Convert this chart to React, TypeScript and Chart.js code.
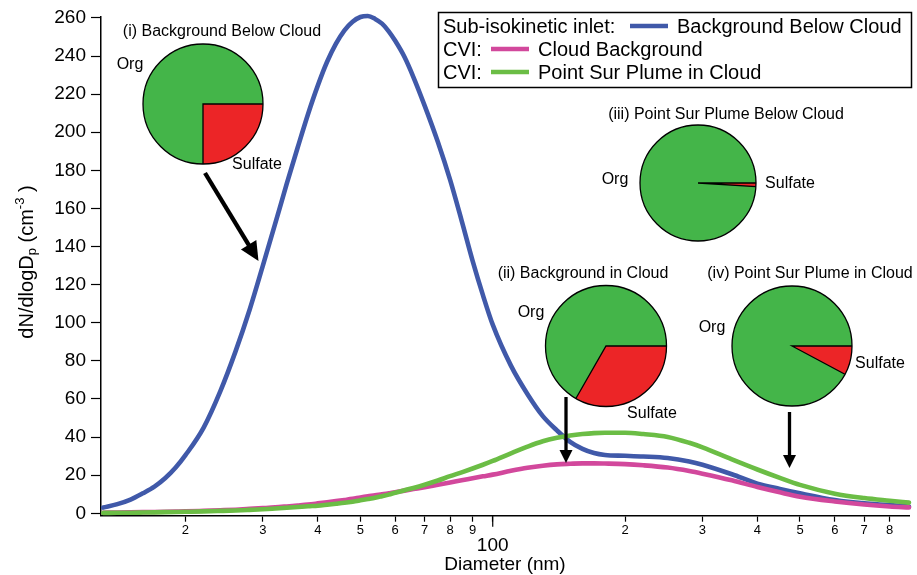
import React, { useEffect, useRef } from 'react';
import { Chart, registerables } from 'chart.js';

Chart.register(...registerables);

const FONT = "'Liberation Sans', Arial, Helvetica, sans-serif";

// ---- data ----
const diameters = [13, 14, 15, 16, 17, 18, 19, 20, 22, 24, 26, 28, 30, 32, 34, 36, 38, 40, 42, 44, 46, 48, 50, 52, 54, 56, 58, 60, 63, 66, 70, 75, 80, 85, 90, 95, 100, 110, 120, 130, 140, 150, 160, 170, 180, 200, 220, 250, 280, 300, 350, 400, 450, 500, 600, 700, 800, 885];

const backgroundBelowCloud = [3.0, 4.8, 7.2, 10.5, 14, 18.5, 24, 30.5, 45, 64, 85, 107, 130, 152, 173, 192, 209.5, 224.5, 237, 246.5, 253.5, 258, 260.5, 261, 259.5, 257, 253, 248, 239.5, 229, 214, 195, 175, 153.5, 132.5, 114.5, 99, 77.5, 62.5, 51, 43.5, 37.5, 33.8, 31.6, 30.6, 30.2, 29.8, 29, 27.2, 25.5, 20.5, 15.6, 12.8, 10.5, 7, 5.2, 4.3, 3.5];

const cloudBackground = [0.3, 0.4, 0.5, 0.6, 0.7, 0.8, 0.9, 1.0, 1.3, 1.6, 1.9, 2.3, 2.7, 3.1, 3.6, 4.1, 4.6, 5.2, 5.8, 6.4, 7.0, 7.6, 8.3, 8.9, 9.4, 10.0, 10.5, 11.0, 11.9, 12.7, 13.7, 15.0, 16.2, 17.3, 18.4, 19.4, 20.3, 22.3, 23.9, 25.0, 25.7, 26.0, 26.2, 26.2, 26.1, 25.8, 25.2, 24.0, 22.2, 20.8, 17.3, 13.8, 11.0, 8.7, 6.2, 4.6, 3.6, 3.1];

const plumeInCloud = [0.2, 0.25, 0.3, 0.4, 0.5, 0.6, 0.7, 0.8, 1.0, 1.25, 1.5, 1.8, 2.1, 2.5, 2.9, 3.3, 3.7, 4.0, 4.5, 5.0, 5.5, 6.1, 6.8, 7.5, 8.2, 9.0, 9.8, 10.8, 12.1, 13.3, 15.0, 17.2, 19.5, 21.5, 23.5, 25.5, 27.5, 31.5, 35, 37.8, 39.6, 40.8, 41.6, 42.1, 42.3, 42.3, 41.6, 40.1, 37, 34.6, 28.3, 23, 18.6, 14.9, 10.3, 8.0, 6.6, 5.6];

const xTickValues = [20, 30, 40, 50, 60, 70, 80, 90, 100, 200, 300, 400, 500, 600, 700, 800];
const xTickLabels = ['2', '3', '4', '5', '6', '7', '8', '9', '100', '2', '3', '4', '5', '6', '7', '8'];
const yTickValues = [0, 20, 40, 60, 80, 100, 120, 140, 160, 180, 200, 220, 240, 260];

const seriesNames = ['Background Below Cloud', 'Cloud Background', 'Point Sur Plume in Cloud'];
const legendPrefixes = ['Sub-isokinetic inlet:', 'CVI:', 'CVI:'];
const seriesColors = ['#4059a9', '#d2489c', '#6bbd45'];

const pieTitles = ['(i) Background Below Cloud', '(ii) Background in Cloud', '(iii) Point Sur Plume Below Cloud', '(iv) Point Sur Plume in Cloud'];
const sulfateFractions = [0.25, 0.333, 0.01, 0.078];
const pieLabels = ['Org', 'Sulfate'];
const pieColors = ['#44b549', '#ec2527'];

// ---- layout of inset annotations (pixels) ----
const pieLayout = [
  { cx: 203, cy: 104, r: 60, title: [222, 32], org: [130, 65], sulf: [257, 165] },
  { cx: 606, cy: 346, r: 60.5, title: [583, 274], org: [531, 313], sulf: [652, 414] },
  { cx: 698, cy: 183, r: 58, title: [726, 115], org: [615, 180], sulf: [790, 184] },
  { cx: 792, cy: 346, r: 60, title: [810, 274], org: [712, 328], sulf: [880, 364] },
];
const arrows = [
  { x1: 205, y1: 173, x2: 258.5, y2: 261, w: 4.3, head: 19, half: 9 },
  { x1: 566, y1: 397, x2: 566, y2: 463, w: 3.3, head: 13, half: 6.5 },
  { x1: 789.5, y1: 412, x2: 789.5, y2: 468, w: 3.3, head: 13, half: 6.5 },
];

function drawArrow(ctx: CanvasRenderingContext2D, a: any) {
  const dx = a.x2 - a.x1, dy = a.y2 - a.y1;
  const len = Math.hypot(dx, dy);
  const ux = dx / len, uy = dy / len;
  const bx = a.x2 - ux * a.head, by = a.y2 - uy * a.head;
  ctx.strokeStyle = '#000';
  ctx.fillStyle = '#000';
  ctx.lineWidth = a.w;
  ctx.lineCap = 'butt';
  ctx.beginPath();
  ctx.moveTo(a.x1, a.y1);
  ctx.lineTo(bx + ux * 1, by + uy * 1);
  ctx.stroke();
  ctx.beginPath();
  ctx.moveTo(a.x2, a.y2);
  ctx.lineTo(bx - uy * a.half, by + ux * a.half);
  ctx.lineTo(bx + uy * a.half, by - ux * a.half);
  ctx.closePath();
  ctx.fill();
}

const overlayPlugin = {
  id: 'overlay',
  afterDraw(chart: any) {
    const ctx: CanvasRenderingContext2D = chart.ctx;
    const xs = chart.scales.x;
    const area = chart.chartArea;
    ctx.save();

    // longer major tick at 100
    const p100 = xs.getPixelForValue(100);
    ctx.strokeStyle = '#000';
    ctx.lineWidth = 1.2;
    ctx.beginPath();
    ctx.moveTo(p100, area.bottom);
    ctx.lineTo(p100, area.bottom + 11);
    ctx.stroke();

    // y axis title with subscript / superscript
    ctx.save();
    ctx.translate(33, 262);
    ctx.rotate(-Math.PI / 2);
    const parts = [
      { t: 'dN/dlogD', s: 20, dy: 0 },
      { t: 'p', s: 13, dy: 3 },
      { t: ' (cm', s: 20, dy: 0 },
      { t: '-3', s: 13, dy: -9 },
      { t: ' )', s: 20, dy: 0 },
    ];
    let total = 0;
    for (const p of parts) {
      ctx.font = `${p.s}px ${FONT}`;
      total += ctx.measureText(p.t).width;
    }
    let cx = -total / 2;
    ctx.fillStyle = '#000';
    ctx.textBaseline = 'alphabetic';
    ctx.textAlign = 'left';
    for (const p of parts) {
      ctx.font = `${p.s}px ${FONT}`;
      ctx.fillText(p.t, cx, p.dy);
      cx += ctx.measureText(p.t).width;
    }
    ctx.restore();

    // legend
    ctx.strokeStyle = '#000';
    ctx.lineWidth = 1.5;
    ctx.strokeRect(438.5, 12.5, 473, 75);
    ctx.font = `20px ${FONT}`;
    ctx.textBaseline = 'middle';
    ctx.textAlign = 'left';
    const rowsY = [26, 49, 72];
    const lineStarts = [630, 491, 491];
    for (let i = 0; i < 3; i++) {
      ctx.fillStyle = '#000';
      ctx.fillText(legendPrefixes[i], 443, rowsY[i] + 1);
      ctx.strokeStyle = seriesColors[i];
      ctx.lineWidth = 4.5;
      ctx.beginPath();
      ctx.moveTo(lineStarts[i], rowsY[i]);
      ctx.lineTo(lineStarts[i] + 38, rowsY[i]);
      ctx.stroke();
      ctx.fillStyle = '#000';
      ctx.fillText(seriesNames[i], lineStarts[i] + 47, rowsY[i] + 1);
    }

    // pies
    for (let i = 0; i < pieLayout.length; i++) {
      const L = pieLayout[i];
      const a = sulfateFractions[i] * Math.PI * 2;
      ctx.fillStyle = pieColors[0];
      ctx.beginPath();
      ctx.arc(L.cx, L.cy, L.r, 0, Math.PI * 2);
      ctx.fill();
      ctx.fillStyle = pieColors[1];
      ctx.beginPath();
      ctx.moveTo(L.cx, L.cy);
      ctx.arc(L.cx, L.cy, L.r, 0, a);
      ctx.closePath();
      ctx.fill();
      ctx.strokeStyle = '#000';
      ctx.lineWidth = 1.3;
      ctx.beginPath();
      ctx.arc(L.cx, L.cy, L.r, 0, Math.PI * 2);
      ctx.stroke();
      ctx.beginPath();
      ctx.moveTo(L.cx + L.r, L.cy);
      ctx.lineTo(L.cx, L.cy);
      ctx.lineTo(L.cx + L.r * Math.cos(a), L.cy + L.r * Math.sin(a));
      ctx.stroke();

      ctx.fillStyle = '#000';
      ctx.font = `16px ${FONT}`;
      ctx.textAlign = 'center';
      ctx.textBaseline = 'middle';
      ctx.fillText(pieTitles[i], L.title[0], L.title[1]);
      ctx.fillText(pieLabels[0], L.org[0], L.org[1]);
      ctx.fillText(pieLabels[1], L.sulf[0], L.sulf[1]);
    }

    // arrows
    for (const a of arrows) drawArrow(ctx, a);

    ctx.restore();
  },
};

export default function App() {
  const ref = useRef<HTMLCanvasElement>(null);

  useEffect(() => {
    const canvas = ref.current;
    if (!canvas) return;
    Chart.defaults.font.family = FONT;
    Chart.defaults.color = '#000';

    const seriesValues = [backgroundBelowCloud, cloudBackground, plumeInCloud];
    const drawOrder = [2, 1, 0];

    const chart = new Chart(canvas, {
      type: 'line',
      data: {
        datasets: seriesValues.map((vals, k) => ({
          label: seriesNames[k],
          data: diameters.map((d, i) => ({ x: d, y: vals[i] })),
          borderColor: seriesColors[k],
          backgroundColor: seriesColors[k],
          borderWidth: 4.6,
          borderJoinStyle: 'round',
          borderCapStyle: 'round',
          pointRadius: 0,
          cubicInterpolationMode: 'monotone',
          fill: false,
          clip: false,
          order: drawOrder[k],
        })),
      },
      options: {
        responsive: false,
        animation: false,
        devicePixelRatio: 1,
        events: [],
        layout: { padding: { top: 17, right: 8, left: 0, bottom: 0 } },
        plugins: {
          legend: { display: false },
          tooltip: { enabled: false },
          title: { display: false },
        },
        scales: {
          x: {
            type: 'logarithmic',
            min: 12.85,
            max: 885,
            afterBuildTicks: (s: any) => {
              s.ticks = xTickValues.map((v) => ({ value: v }));
            },
            afterFit: (s: any) => {
              s.height = 59.3;
            },
            ticks: {
              autoSkip: false,
              maxRotation: 0,
              minRotation: 0,
              padding: 1,
              color: '#000',
              callback: (_v: any, i: number) => xTickLabels[i],
              font: (c: any) =>
                c.tick && c.tick.value === 100
                  ? { family: FONT, size: 19, lineHeight: 2.4 }
                  : { family: FONT, size: 13, lineHeight: 1.2 },
            },
            grid: {
              display: true,
              drawOnChartArea: false,
              drawTicks: true,
              tickLength: 6,
              tickColor: '#000',
              color: '#000',
              tickWidth: 1.2,
            },
            border: { display: true, color: '#000', width: 1.5 },
            title: {
              display: true,
              text: 'Diameter (nm)',
              color: '#000',
              font: { family: FONT, size: 19, lineHeight: 1 },
              padding: { top: 0, bottom: 1 },
            },
          },
          y: {
            type: 'linear',
            min: -1.26,
            max: 260.5,
            afterBuildTicks: (s: any) => {
              s.ticks = yTickValues.map((v) => ({ value: v }));
            },
            afterFit: (s: any) => {
              s.width = 101;
            },
            ticks: {
              padding: 5,
              color: '#000',
              font: { family: FONT, size: 19 },
            },
            grid: {
              display: true,
              drawOnChartArea: false,
              drawTicks: true,
              tickLength: 10,
              tickColor: '#000',
              color: '#000',
              tickWidth: 1.2,
            },
            border: { display: true, color: '#000', width: 1.5 },
            title: { display: false },
          },
        },
      },
      plugins: [overlayPlugin],
    } as any);

    return () => chart.destroy();
  }, []);

  return (
    <div style={{ position: 'absolute', left: 0, top: 0, width: 917, height: 575, background: '#fff' }}>
      <canvas ref={ref} width={917} height={575} style={{ display: 'block', width: 917, height: 575 }} />
    </div>
  );
}
